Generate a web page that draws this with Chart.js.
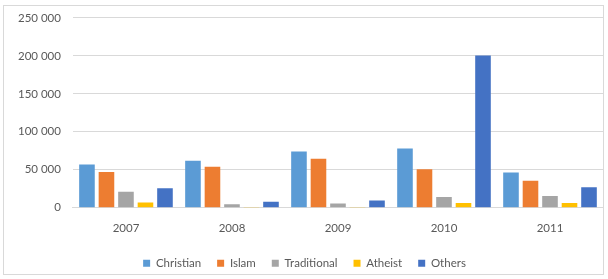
<!DOCTYPE html>
<html><head><meta charset="utf-8">
<script src="https://cdn.jsdelivr.net/npm/chart.js@4/dist/chart.umd.min.js"></script>
<style>
html,body{margin:0;padding:0;background:#fff;overflow:hidden;}
#frame{position:absolute;left:3px;top:5px;width:601px;height:270px;border:1px solid #d9d9d9;box-sizing:border-box;}
#wrap{position:absolute;left:4px;top:-1px;width:599px;height:280px;}
</style></head>
<body>
<div id="frame"></div>
<div id="wrap"><canvas id="c"></canvas></div>
<script>
const categories = ['2007','2008','2009','2010','2011'];
const christian = [57000, 62000, 74000, 78000, 46500];
const islam = [47000, 54000, 64500, 50500, 35500];
const traditional = [21000, 4500, 5500, 14000, 15500];
const atheist = [7000, 1000, 1000, 6200, 6200];
const others = [25500, 8000, 9500, 200500, 27000];
const yTicks = [0, 50000, 100000, 150000, 200000, 250000];

const font = {family: "Lato, 'Open Sans', 'Liberation Sans', sans-serif", size: 11.5};
const textColor = '#595959';
function fmt(v){ return v.toString().replace(/\B(?=(\d{3})+(?!\d))/g, ' '); }
const mk = (label, data, color) => ({label, data, backgroundColor: color, borderWidth: 0, barPercentage: 0.8, categoryPercentage: 0.92});

new Chart(document.getElementById('c'), {
  type: 'bar',
  data: {
    labels: categories,
    datasets: [
      mk('Christian', christian, '#5B9BD5'),
      mk('Islam', islam, '#ED7D31'),
      mk('Traditional', traditional, '#A5A5A5'),
      mk('Atheist', atheist, '#FFC000'),
      mk('Others', others, '#4472C4')
    ]
  },
  options: {
    responsive: true,
    maintainAspectRatio: false,
    animation: false,
    layout: {padding: {left: 2, right: 0, top: 5, bottom: 0}},
    plugins: {
      legend: {
        position: 'bottom',
        labels: {boxWidth: 7, boxHeight: 7, padding: 16, color: textColor, font: font}
      },
      tooltip: {enabled: false}
    },
    scales: {
      x: {
        grid: {display: false},
        border: {color: '#d9d9d9'},
        ticks: {color: textColor, font: font, padding: 6}
      },
      y: {
        min: 0, max: 250000,
        afterBuildTicks: (axis) => { axis.ticks = yTicks.map(v => ({value: v})); },
        grid: {color: '#d9d9d9', drawTicks: false},
        border: {display: false},
        ticks: {color: textColor, font: font, padding: 12, callback: (v) => fmt(v)}
      }
    }
  }
});
</script>
</body></html>
